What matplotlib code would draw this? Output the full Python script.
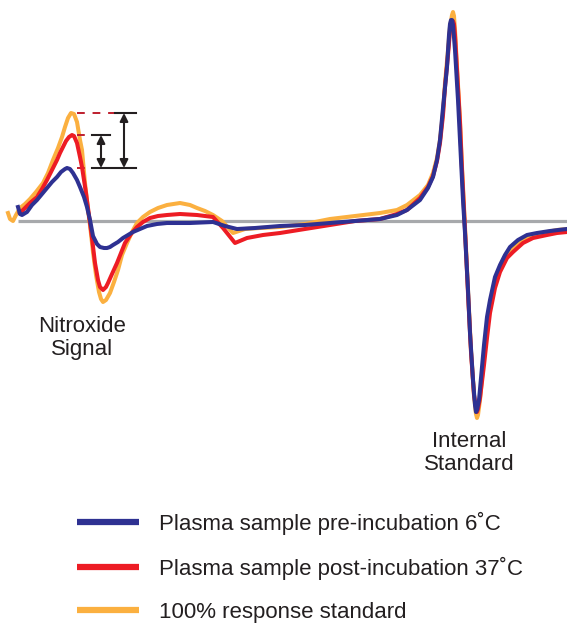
import matplotlib.pyplot as plt
from matplotlib.lines import Line2D
import numpy as np

# 100% response standard (field position, signal amplitude)
std_x = [8, 10, 13, 16, 20, 25, 30, 36, 43, 48, 53, 58, 62, 65, 68, 71, 74, 77, 80, 82,
         85, 88, 90, 93, 96, 99, 101, 103, 106, 110, 114, 118, 122, 127, 132, 137, 143, 150, 158, 167,
         180, 190, 197, 205, 213, 222, 233, 245, 260, 280, 305, 330, 355, 380, 397, 407, 420, 428, 433, 437,
         440, 443, 445, 448, 450, 452, 453, 454, 455, 457, 460, 462, 465, 468, 471, 474, 476, 477, 478, 480,
         483, 486, 488, 492, 497, 503, 510, 518, 527, 537, 547, 557, 567]
std_y = [8, 2, 0, 6, 13, 17, 22, 29, 38, 48, 61, 73, 84, 94, 103, 108, 107, 99, 81, 71,
         38, 11, -4, -31, -54, -71, -78, -81, -79, -72, -61, -49, -34, -22, -11, -2, 4, 9, 13, 16,
         18, 16, 13, 10, 6, 0, -12, -8, -7, -6, -3, 2, 5, 8, 11, 16, 26, 36, 48, 63,
         81, 109, 138, 171, 194, 206, 209, 205, 191, 154, 101, 54, -6, -69, -129, -174, -193, -197, -194, -179,
         -146, -115, -96, -74, -56, -41, -29, -22, -16, -13, -11, -9, -8]

# post-incubation 37C
post_x = [20, 25, 30, 37, 42, 47, 52, 57, 60, 63, 66, 69, 72, 74, 77, 80, 82, 84, 86, 88,
          90, 92, 95, 98, 100, 103, 106, 108, 112, 117, 121, 125, 131, 137, 143, 150, 158, 167, 180, 197,
          213, 223, 235, 247, 263, 280, 305, 330, 355, 380, 397, 407, 420, 428, 433, 437, 440, 443, 445, 448,
          450, 452, 453, 454, 455, 457, 460, 462, 465, 468, 471, 474, 476, 477, 478, 480, 484, 487, 490, 495,
          500, 507, 513, 523, 533, 547, 557, 567]
post_y = [8, 13, 18, 24, 32, 41, 51, 61, 68, 74, 80, 84, 86, 85, 78, 64, 54, 41, 28, 13,
          -2, -17, -42, -59, -66, -69, -66, -62, -53, -42, -32, -22, -13, -6, -1, 3, 5, 6, 7, 6,
          4, -7, -22, -17, -14, -12, -8, -4, 0, 2, 7, 11, 23, 34, 45, 60, 78, 106, 134, 166,
          190, 199, 200, 197, 186, 151, 98, 51, -9, -72, -131, -174, -187, -191, -188, -177, -144, -117, -92, -67,
          -51, -37, -31, -22, -17, -14, -12, -11]

# pre-incubation 6C
pre_x = [18, 20, 22, 27, 32, 37, 42, 47, 52, 57, 61, 65, 67, 70, 73, 77, 80, 84, 87, 90,
         93, 97, 100, 104, 107, 110, 113, 118, 123, 128, 133, 140, 147, 157, 167, 190, 213, 225, 237, 255,
         280, 305, 330, 355, 380, 397, 407, 420, 428, 433, 437, 440, 443, 447, 449, 450, 451, 452, 453, 455,
         458, 460, 463, 465, 468, 470, 473, 475, 476, 477, 479, 482, 484, 487, 490, 495, 500, 505, 510, 518,
         527, 537, 550, 558, 567]
pre_y = [14, 7, 6, 9, 16, 21, 27, 33, 39, 44, 49, 52, 53, 52, 48, 41, 34, 24, 14, 1,
         -15, -23, -26, -27, -27, -26, -24, -21, -17, -14, -11, -8, -5, -3, -2, -2, -1, -5, -8, -7,
         -5, -4, -2, 0, 2, 6, 11, 21, 33, 44, 61, 81, 113, 154, 186, 197, 201, 201, 196, 171,
         121, 81, 21, -12, -69, -112, -159, -184, -191, -189, -179, -146, -124, -96, -79, -56, -44, -34, -26, -19,
         -14, -12, -10, -9, -8]

labels = ["Plasma sample pre-incubation 6˚C",
          "Plasma sample post-incubation 37˚C",
          "100% response standard"]

c_pre = "#2E3192"
c_post = "#ED1C24"
c_std = "#FBB040"
c_text = "#231F20"

plt.rcParams['font.family'] = ['Liberation Sans', 'DejaVu Sans']

fig = plt.figure(figsize=(5.67, 6.28), dpi=100)
ax = fig.add_axes([0, 0, 1, 1])
ax.set_xlim(0, 567)
ax.set_ylim(-407, 221)
ax.set_axis_off()

# baseline
ax.plot([18, 567], [0, 0], color="#A7A9AC", lw=2.3, zorder=1, solid_capstyle='butt')

ax.plot(std_x, std_y, color=c_std, lw=2.9, zorder=2)
ax.plot(post_x, post_y, color=c_post, lw=2.9, zorder=3)
ax.plot(pre_x, pre_y, color=c_pre, lw=2.9, zorder=4)

# peak heights of the nitroxide signal
pk_std = max(std_y[:40])
pk_post = max(post_y[:40])
pk_pre = max(pre_y[:40])

dash_col = "#BE1E2D"
ax.plot([77, 115], [pk_std, pk_std], color=dash_col, lw=1.4, ls=(0, (4, 4)))
ax.plot([77, 92], [pk_post, pk_post], color=dash_col, lw=1.4, ls=(0, (4, 4)))
ax.plot([77, 92], [pk_pre, pk_pre], color=dash_col, lw=1.4, ls=(0, (4, 4)))
ax.plot([115, 136], [pk_std, pk_std], color=c_text, lw=1.5)
ax.plot([92, 110], [pk_post, pk_post], color=c_text, lw=1.5)
ax.plot([92, 136], [pk_pre, pk_pre], color=c_text, lw=1.5)

arr = dict(arrowstyle='<|-|>', color=c_text, lw=1.5, mutation_scale=12,
           shrinkA=0, shrinkB=0)
ax.annotate("", xy=(124, pk_std), xytext=(124, pk_pre), arrowprops=arr)
ax.annotate("", xy=(101, pk_post), xytext=(101, pk_pre), arrowprops=arr)

# labels
ax.text(82, -111, "Nitroxide", ha='center', va='baseline', fontsize=16, color=c_text)
ax.text(82, -134, "Signal", ha='center', va='baseline', fontsize=16, color=c_text)
ax.text(469, -226, "Internal", ha='center', va='baseline', fontsize=16, color=c_text)
ax.text(469, -249, "Standard", ha='center', va='baseline', fontsize=16, color=c_text)

handles = [Line2D([], [], color=c, lw=4.5, solid_capstyle='butt') for c in (c_pre, c_post, c_std)]
leg = ax.legend(handles, labels, loc='upper left', bbox_to_anchor=(77 / 567, 1 - 511.5 / 628),
                frameon=False, fontsize=16, handlelength=2.78, handletextpad=0.9,
                labelspacing=1.0, borderpad=0, borderaxespad=0)
for t in leg.get_texts():
    t.set_color(c_text)

plt.savefig("out.png", dpi=100)
